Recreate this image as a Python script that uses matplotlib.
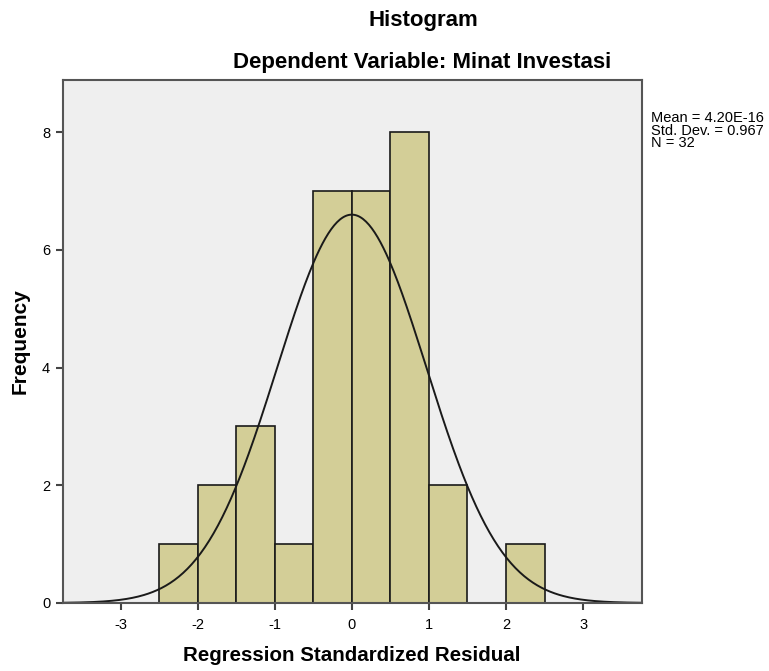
import matplotlib.pyplot as plt
import numpy as np

plt.rcParams['font.family'] = ['Liberation Sans', 'DejaVu Sans']
plt.rcParams['axes.unicode_minus'] = False

# histogram of regression standardized residuals
bin_edges = np.array([-2.5, -2.0, -1.5, -1.0, -0.5, 0.0, 0.5, 1.0, 1.5, 2.0, 2.5])
counts = np.array([1, 2, 3, 1, 7, 7, 8, 2, 0, 1])
mean = 4.20e-16
std = 0.967
n = 32

fig = plt.figure(figsize=(7.69, 6.71), dpi=100)
ax = fig.add_axes([0.0815, 0.1014, 0.753, 0.7794])
ax.set_facecolor('#efefef')

widths = np.diff(bin_edges)
ax.bar(bin_edges[:-1], counts, width=widths, align='edge',
       color='#d3ce97', edgecolor='#1a1a1a', linewidth=1.2)

# normal curve scaled to counts
x = np.linspace(-3.75, 3.76, 400)
y = n * widths[0] * np.exp(-0.5 * ((x - mean) / std) ** 2) / (std * np.sqrt(2 * np.pi))
ax.plot(x, y, color='#1a1a1a', lw=1.4)

ax.set_xlim(-3.75, 3.76)
ax.set_ylim(0, 8.89)
ax.set_xticks([-3, -2, -1, 0, 1, 2, 3])
ax.set_yticks([0, 2, 4, 6, 8])
ax.tick_params(direction='out', length=5, width=1.5, color='#444444',
               labelsize=10.5, pad=4)
ax.tick_params(axis='x', pad=6)
for s in ax.spines.values():
    s.set_color('#555555')
    s.set_linewidth(1.5)

ax.set_xlabel('Regression Standardized Residual', fontsize=14.8, fontweight='bold', labelpad=10)
ax.set_ylabel('Frequency', fontsize=15, fontweight='bold', labelpad=9)

fig.text(0.551, 0.970, 'Histogram', fontsize=16, fontweight='bold', ha='center', va='center')
fig.text(0.549, 0.907, 'Dependent Variable: Minat Investasi', fontsize=16, fontweight='bold',
         ha='center', va='center')

fig.text(0.846, 0.834, 'Mean = 4.20E-16\nStd. Dev. = 0.967\nN = 32',
         fontsize=10.5, ha='left', va='top', linespacing=0.85)

fig.savefig('out.png', dpi=100)
